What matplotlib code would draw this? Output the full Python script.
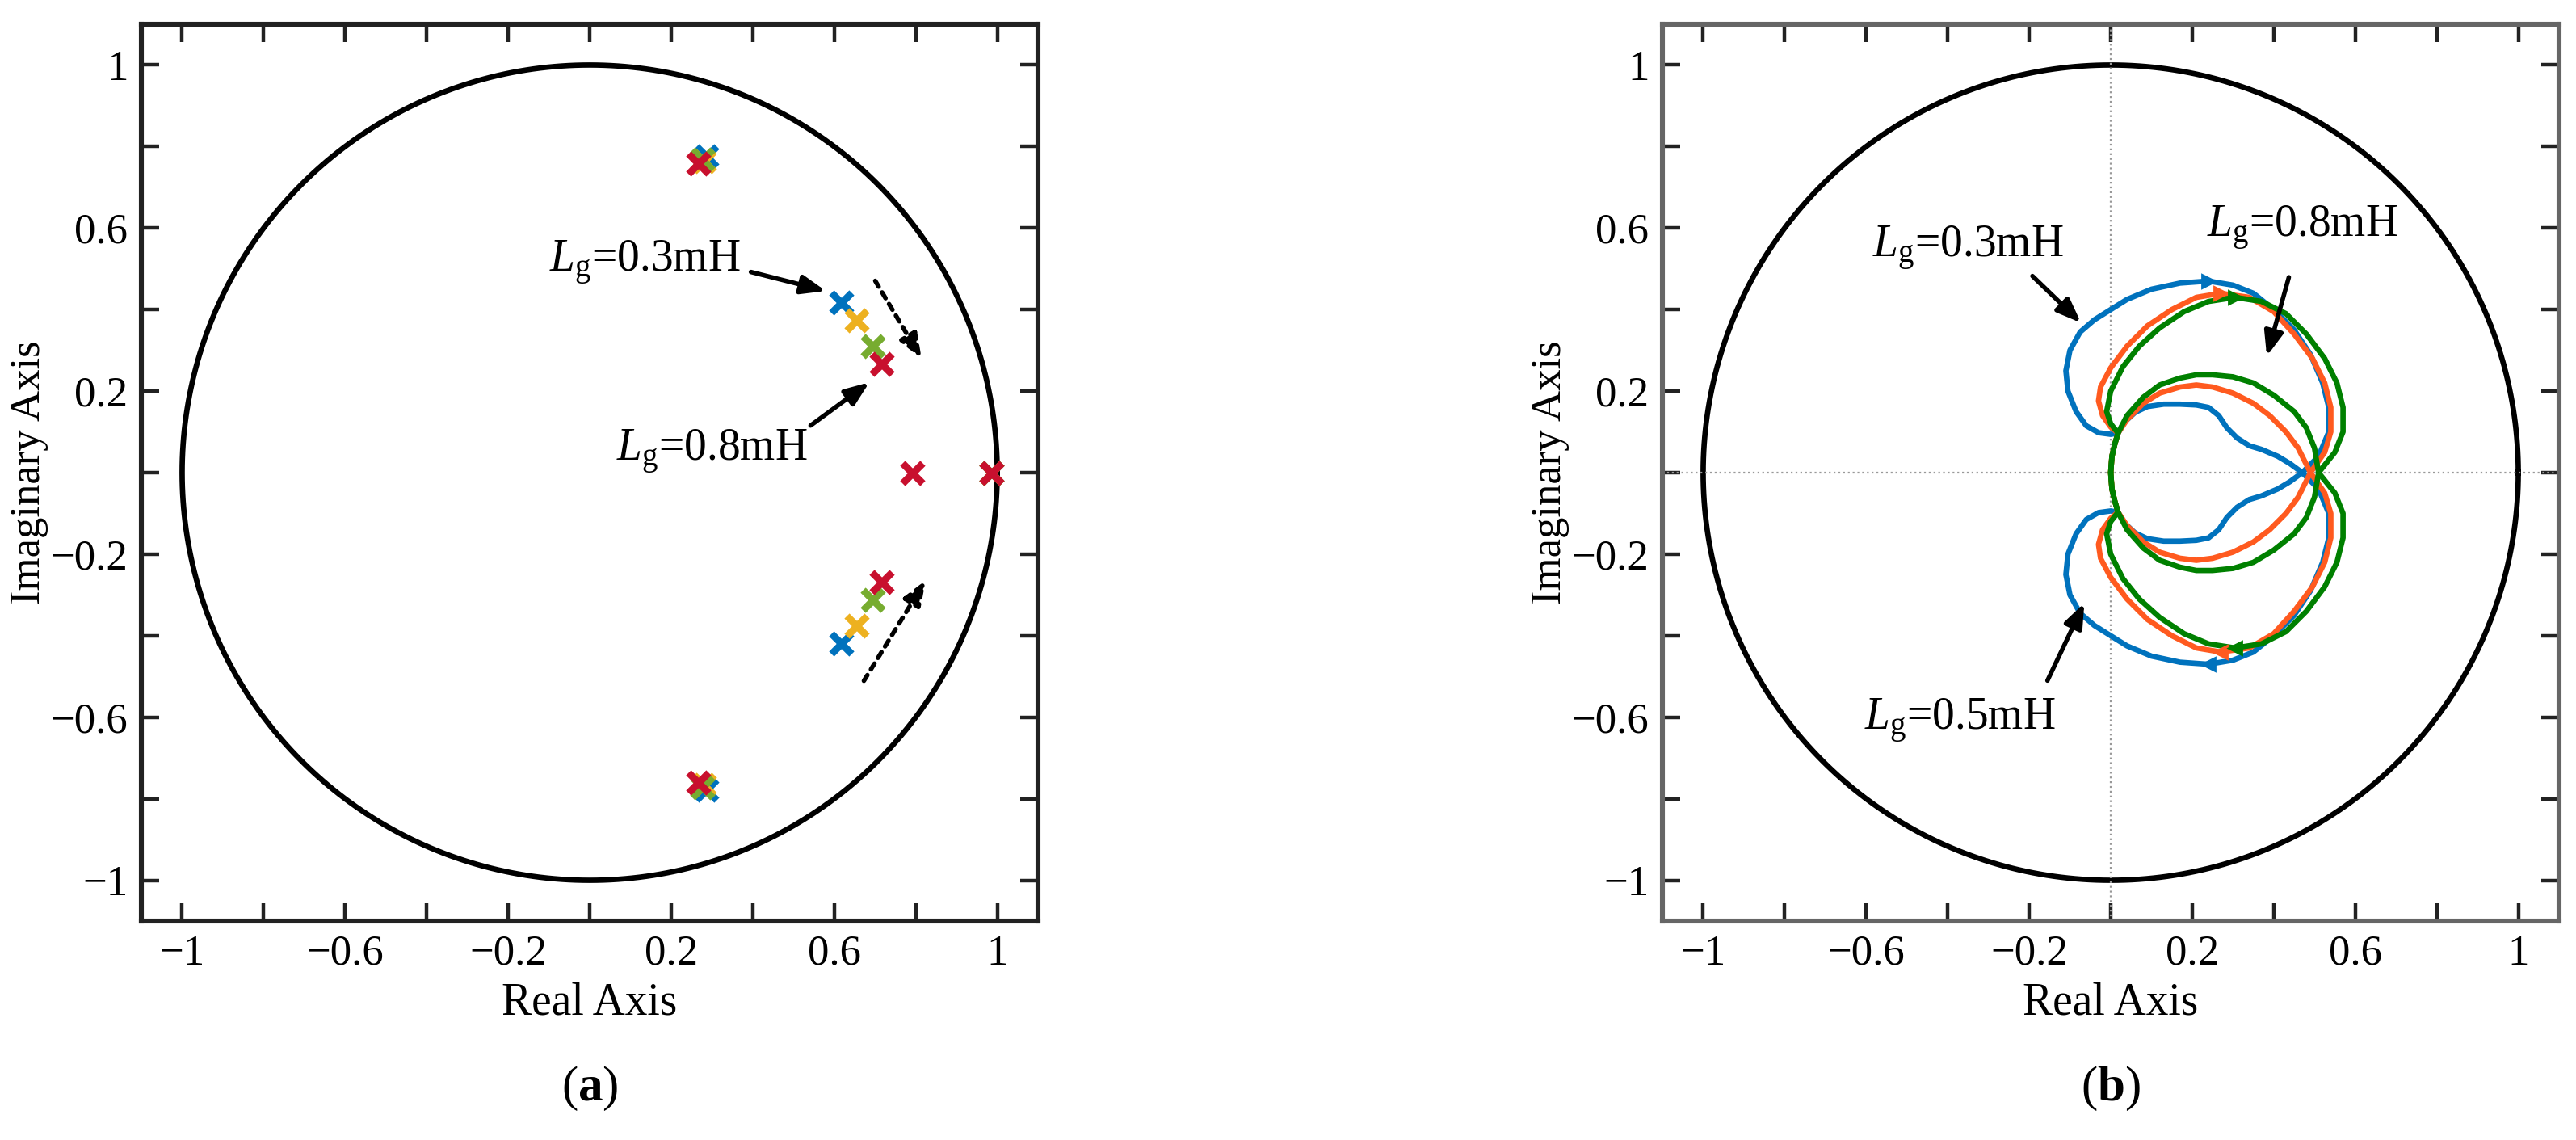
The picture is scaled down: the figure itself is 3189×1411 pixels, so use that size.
import numpy as np
import matplotlib
matplotlib.use("Agg")
import matplotlib.pyplot as plt

plt.rcParams['font.family'] = ['Liberation Serif', 'DejaVu Serif']
plt.rcParams['mathtext.fontset'] = 'custom'
plt.rcParams['mathtext.rm'] = 'Liberation Serif'
plt.rcParams['mathtext.it'] = 'Liberation Serif:italic'
plt.rcParams['mathtext.bf'] = 'Liberation Serif:bold'

# ---------- data: panel (a) closed-loop poles ----------
pole_colors = ['#0072BD', '#EDB120', '#77AC30', '#C8102E']
poles_hi_re = [0.285, 0.280, 0.275, 0.265]
poles_hi_im = [0.776, 0.765, 0.770, 0.760]
poles_mid_re = [0.616, 0.655, 0.693, 0.715]
poles_mid_im = [0.418, 0.374, 0.311, 0.268]
poles_real = [0.985, 0.985, 0.985, 0.985]
pole_real2 = [0.79]

# ---------- data: panel (b) loci (upper half; lower half mirrored) ----------
blue_outer_x = [0.47, 0.51, 0.535, 0.535, 0.52, 0.49, 0.45, 0.40, 0.35, 0.30, 0.24, 0.17, 0.10, 0.04, 0.00,
                -0.04, -0.075, -0.10, -0.11, -0.105, -0.085, -0.06, -0.03, 0.0, 0.018]
blue_outer_y = [0.00, 0.04, 0.10, 0.16, 0.22, 0.29, 0.35, 0.40, 0.44, 0.46, 0.47, 0.465, 0.45, 0.425, 0.40,
                0.375, 0.345, 0.30, 0.25, 0.20, 0.15, 0.115, 0.098, 0.094, 0.097]
blue_inner_x = [0.018, 0.035, 0.06, 0.09, 0.13, 0.17, 0.21, 0.24, 0.265, 0.285, 0.31, 0.34, 0.37, 0.41, 0.44, 0.47]
blue_inner_y = [0.097, 0.125, 0.148, 0.162, 0.168, 0.168, 0.166, 0.16, 0.14, 0.11, 0.085, 0.066, 0.057, 0.04, 0.022, 0.0]

orange_outer_x = [0.49, 0.525, 0.54, 0.54, 0.525, 0.495, 0.45, 0.40, 0.34, 0.27, 0.21, 0.15, 0.09, 0.04, 0.00,
                  -0.025, -0.03, -0.02, 0.0, 0.018, 0.01, 0.003, 0.0]
orange_outer_y = [0.00, 0.05, 0.10, 0.16, 0.22, 0.28, 0.34, 0.395, 0.43, 0.44, 0.43, 0.40, 0.36, 0.31, 0.257,
                  0.21, 0.176, 0.14, 0.112, 0.097, 0.07, 0.04, 0.0]
orange_inner_x = [0.0, 0.003, 0.01, 0.018, 0.04, 0.08, 0.12, 0.17, 0.21, 0.25, 0.30, 0.35, 0.39, 0.43, 0.46, 0.49]
orange_inner_y = [0.0, 0.04, 0.07, 0.097, 0.13, 0.17, 0.195, 0.21, 0.215, 0.21, 0.195, 0.17, 0.14, 0.10, 0.06, 0.0]

green_outer_x = [0.51, 0.55, 0.57, 0.57, 0.555, 0.525, 0.48, 0.43, 0.37, 0.305, 0.24, 0.18, 0.12, 0.07, 0.03,
                 0.00, -0.01, 0.0, 0.018, 0.01, 0.003, 0.0]
green_outer_y = [0.00, 0.05, 0.10, 0.16, 0.22, 0.28, 0.34, 0.39, 0.42, 0.43, 0.42, 0.395, 0.355, 0.31, 0.26,
                 0.20, 0.15, 0.12, 0.097, 0.07, 0.04, 0.0]
green_inner_x = [0.0, 0.003, 0.01, 0.018, 0.04, 0.08, 0.12, 0.17, 0.21, 0.25, 0.30, 0.35, 0.40, 0.45, 0.48, 0.50, 0.51]
green_inner_y = [0.0, 0.04, 0.07, 0.097, 0.14, 0.185, 0.215, 0.232, 0.24, 0.24, 0.235, 0.22, 0.19, 0.15, 0.11, 0.06, 0.0]

curve_colors = {'blue': '#0072BD', 'orange': '#FF5A1F', 'green': '#008000'}
arrow_pts = [('blue', 0.24, 0.47), ('orange', 0.27, 0.44), ('green', 0.305, 0.43)]

ticks = [-1, -0.8, -0.6, -0.4, -0.2, 0, 0.2, 0.4, 0.6, 0.8, 1]
labeled = [-1, -0.6, -0.2, 0.2, 0.6, 1]

W, H = 3189, 1411
fig = plt.figure(figsize=(W / 200, H / 200), dpi=200)
axa = fig.add_axes([175 / W, 271 / H, 1110 / W, 1110 / H])
axb = fig.add_axes([2058 / W, 271 / H, 1110 / W, 1110 / H])

th = np.linspace(0, 2 * np.pi, 721)

def fmt(v):
    if v in labeled:
        return ('%g' % v).replace('-', '\u2212')
    return ''

for ax, spc in ((axa, '#222222'), (axb, '#666666')):
    ax.set_xlim(-1.1, 1.1)
    ax.set_ylim(-1.1, 1.1)
    ax.set_xticks(ticks)
    ax.set_yticks(ticks)
    ax.set_xticklabels([fmt(t) for t in ticks])
    ax.set_yticklabels([fmt(t) for t in ticks])
    ax.tick_params(direction='in', length=8, width=1.6, top=True, right=True,
                   labelsize=19, color='#222222', pad=6)
    for s in ax.spines.values():
        s.set_linewidth(2.2)
        s.set_color(spc)
    ax.plot(np.cos(th), np.sin(th), color='black', lw=2.4)
    ax.set_xlabel('Real Axis', fontsize=20, labelpad=4)
    ax.set_ylabel('Imaginary Axis', fontsize=19, labelpad=1)

# ---- panel a ----
for i, c in enumerate(pole_colors):
    for sgn in (1, -1):
        axa.plot(poles_hi_re[i], sgn * poles_hi_im[i], marker='x', color=c, ms=9, mew=3.2)
        axa.plot(poles_mid_re[i], sgn * poles_mid_im[i], marker='x', color=c, ms=9, mew=3.2)
    axa.plot(poles_real[i], 0, marker='x', color=c, ms=9, mew=3.2)
axa.plot(pole_real2[0], 0, marker='x', color=pole_colors[3], ms=9, mew=3.2)

ap = dict(arrowstyle='-|>,head_length=0.9,head_width=0.35', color='black', lw=2)
axa.annotate('', xy=(0.59, 0.443), xytext=(0.385, 0.495), arrowprops=ap)
axa.text(0.37, 0.515, r'$L_{\rm g}$=0.3mH', fontsize=20, ha='right', va='center')
axa.annotate('', xy=(0.695, 0.228), xytext=(0.533, 0.109), arrowprops=ap)
axa.text(0.30, 0.05, r'$L_{\rm g}$=0.8mH', fontsize=20, ha='center', va='center')
apd = dict(arrowstyle='-|>,head_length=0.9,head_width=0.35', color='black', lw=2, linestyle=(0, (1.5, 1.5)))
axa.annotate('', xy=(0.82, 0.27), xytext=(0.695, 0.48), arrowprops=apd)
axa.annotate('', xy=(0.83, -0.255), xytext=(0.667, -0.52), arrowprops=apd)

# ---- panel b ----
axb.axhline(0, color='#999999', lw=0.8, ls=':')
axb.axvline(0, color='#999999', lw=0.8, ls=':')
for name, ox, oy, ix, iy in (('blue', blue_outer_x, blue_outer_y, blue_inner_x, blue_inner_y),
                             ('orange', orange_outer_x, orange_outer_y, orange_inner_x, orange_inner_y),
                             ('green', green_outer_x, green_outer_y, green_inner_x, green_inner_y)):
    c = curve_colors[name]
    for sgn in (1, -1):
        axb.plot(ox, [sgn * v for v in oy], color=c, lw=2.4, solid_joinstyle='round', solid_capstyle='round')
        axb.plot(ix, [sgn * v for v in iy], color=c, lw=2.4, solid_joinstyle='round', solid_capstyle='round')
for name, x, y in arrow_pts:
    c = curve_colors[name]
    axb.plot(x, y, marker='>', color=c, ms=6)
    axb.plot(x, -y, marker='<', color=c, ms=6)

axb.annotate('', xy=(-0.065, 0.36), xytext=(-0.2, 0.49), arrowprops=ap)
axb.text(-0.35, 0.55, r'$L_{\rm g}$=0.3mH', fontsize=20, ha='center', va='center')
axb.annotate('', xy=(0.38, 0.275), xytext=(0.44, 0.49), arrowprops=ap)
axb.text(0.47, 0.60, r'$L_{\rm g}$=0.8mH', fontsize=20, ha='center', va='center')
axb.annotate('', xy=(-0.06, -0.31), xytext=(-0.16, -0.52), arrowprops=ap)
axb.text(-0.37, -0.61, r'$L_{\rm g}$=0.5mH', fontsize=20, ha='center', va='center')

fig.text((175 + 555) / W, 0.045, r'($\mathbf{a}$)', fontsize=22, ha='center', va='center')
fig.text((2058 + 555) / W, 0.045, r'($\mathbf{b}$)', fontsize=22, ha='center', va='center')

fig.savefig('out.png', dpi=200, facecolor='white')
